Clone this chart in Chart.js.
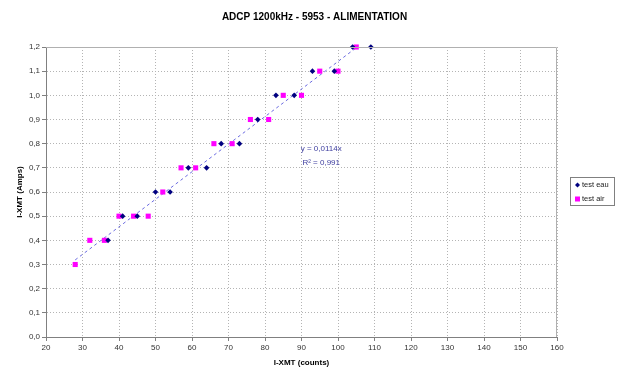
<!DOCTYPE html>
<html>
<head>
<meta charset="utf-8">
<script src="https://cdn.jsdelivr.net/npm/chart.js@4/dist/chart.umd.min.js"></script>
<style>
  body { margin: 0; background: #fff; }
  canvas { display: block; }
</style>
</head>
<body>
<canvas id="chart" width="619" height="370"></canvas>
<script>
// data
const eauX = [37, 41, 45, 50, 54, 59, 64, 68, 73, 78, 83, 88, 93, 99, 104, 109];
const eauY = [0.4, 0.5, 0.5, 0.6, 0.6, 0.7, 0.7, 0.8, 0.8, 0.9, 1.0, 1.0, 1.1, 1.1, 1.2, 1.2];
const airX = [28, 32, 36, 40, 44, 48, 52, 57, 61, 66, 71, 76, 81, 85, 90, 95, 100, 105];
const airY = [0.3, 0.4, 0.4, 0.5, 0.5, 0.5, 0.6, 0.7, 0.7, 0.8, 0.8, 0.9, 0.9, 1.0, 1.0, 1.1, 1.1, 1.2];
const trendX = [28, 105];
const trendY = [0.319, 1.197];
const trendLabel = ["y = 0,0114x", "R² = 0,991"];
const seriesNames = ["test eau", "test air"];
const chartTitle = "ADCP 1200kHz - 5953 - ALIMENTATION";

const toPts = (xs, ys) => xs.map((x, i) => ({ x: x, y: ys[i] }));
const FONT = "'Liberation Sans', Arial, sans-serif";
const BLUE = "#000080";
const PINK = "#ff00ff";

// title, plot border, trend label and legend box
const extras = {
  id: "extras",
  afterDraw(chart) {
    const { ctx, chartArea: { left, right, top, bottom }, scales: { x, y } } = chart;
    ctx.save();
    ctx.fillStyle = "#000";
    ctx.font = "bold 10px " + FONT;
    ctx.textAlign = "center";
    ctx.textBaseline = "middle";
    ctx.fillText(chartTitle, chart.width / 2 + 5, 17);

    ctx.strokeStyle = "#b0b0b0";
    ctx.lineWidth = 1;
    ctx.beginPath();
    ctx.moveTo(left, top + 0.5);
    ctx.lineTo(right - 0.5, top + 0.5);
    ctx.lineTo(right - 0.5, bottom);
    ctx.stroke();

    // trendline equation
    ctx.fillStyle = "#4040a0";
    ctx.font = "8px " + FONT;
    const tx = x.getPixelForValue(95.4);
    ctx.fillText(trendLabel[0], tx, y.getPixelForValue(0.78));
    ctx.fillText(trendLabel[1], tx, y.getPixelForValue(0.722));

    // legend
    ctx.fillStyle = "#fff";
    ctx.fillRect(570, 177, 44, 28);
    ctx.strokeStyle = "#808080";
    ctx.strokeRect(570.5, 177.5, 44, 28);
    ctx.fillStyle = BLUE;
    ctx.beginPath();
    ctx.moveTo(575, 185); ctx.lineTo(577.5, 182.5); ctx.lineTo(580, 185); ctx.lineTo(577.5, 187.5);
    ctx.fill();
    ctx.fillStyle = PINK;
    ctx.fillRect(575, 196.5, 5, 5);
    ctx.fillStyle = "#222";
    ctx.font = "7.5px " + FONT;
    ctx.textAlign = "left";
    ctx.fillText(seriesNames[0], 582, 185);
    ctx.fillText(seriesNames[1], 582, 199);
    ctx.restore();
  }
};

const gridOpts = {
  color: "#b4b4b4",
  tickColor: "#808080",
  tickBorderDash: [],
  tickLength: 4
};
const borderOpts = { color: "#808080", width: 1, dash: [1, 2] };

new Chart(document.getElementById("chart"), {
  type: "scatter",
  data: {
    datasets: [
      {
        label: seriesNames[0],
        data: toPts(eauX, eauY),
        backgroundColor: BLUE,
        borderColor: BLUE,
        pointStyle: "rectRot",
        pointRadius: 2.8,
        borderWidth: 0,
        clip: false,
        order: 1
      },
      {
        label: seriesNames[1],
        data: toPts(airX, airY),
        backgroundColor: PINK,
        borderColor: PINK,
        pointStyle: "rect",
        pointRadius: 3.6,
        borderWidth: 0,
        clip: false,
        order: 2
      },
      {
        type: "line",
        label: "trend",
        data: toPts(trendX, trendY),
        borderColor: "#6a6ae0",
        borderWidth: 1,
        borderDash: [3, 3],
        pointRadius: 0,
        fill: false,
        order: 3
      }
    ]
  },
  options: {
    responsive: false,
    animation: false,
    layout: { padding: { left: 0, right: 62, top: 47, bottom: 0 } },
    plugins: {
      legend: { display: false },
      tooltip: { enabled: false },
      title: { display: false }
    },
    scales: {
      x: {
        type: "linear",
        min: 20,
        max: 160,
        afterFit: (s) => { s.height = 33; },
        grid: gridOpts,
        border: borderOpts,
        ticks: {
          stepSize: 10,
          padding: 2,
          color: "#333",
          font: { family: FONT, size: 8 },
          maxRotation: 0
        },
        title: {
          display: true,
          text: "I-XMT (counts)",
          color: "#000",
          font: { family: FONT, size: 8, weight: "bold" },
          padding: { top: 0, bottom: 2 }
        }
      },
      y: {
        min: 0,
        max: 1.2,
        afterFit: (s) => { s.width = 46; },
        grid: gridOpts,
        border: borderOpts,
        ticks: {
          stepSize: 0.1,
          padding: 2,
          color: "#333",
          font: { family: FONT, size: 8 },
          callback: (v) => v.toFixed(1).replace(".", ",")
        },
        title: {
          display: true,
          text: "I-XMT (Amps)",
          color: "#000",
          font: { family: FONT, size: 8, weight: "bold" },
          padding: { top: 15, bottom: 0 }
        }
      }
    }
  },
  plugins: [extras]
});
</script>
</body>
</html>
